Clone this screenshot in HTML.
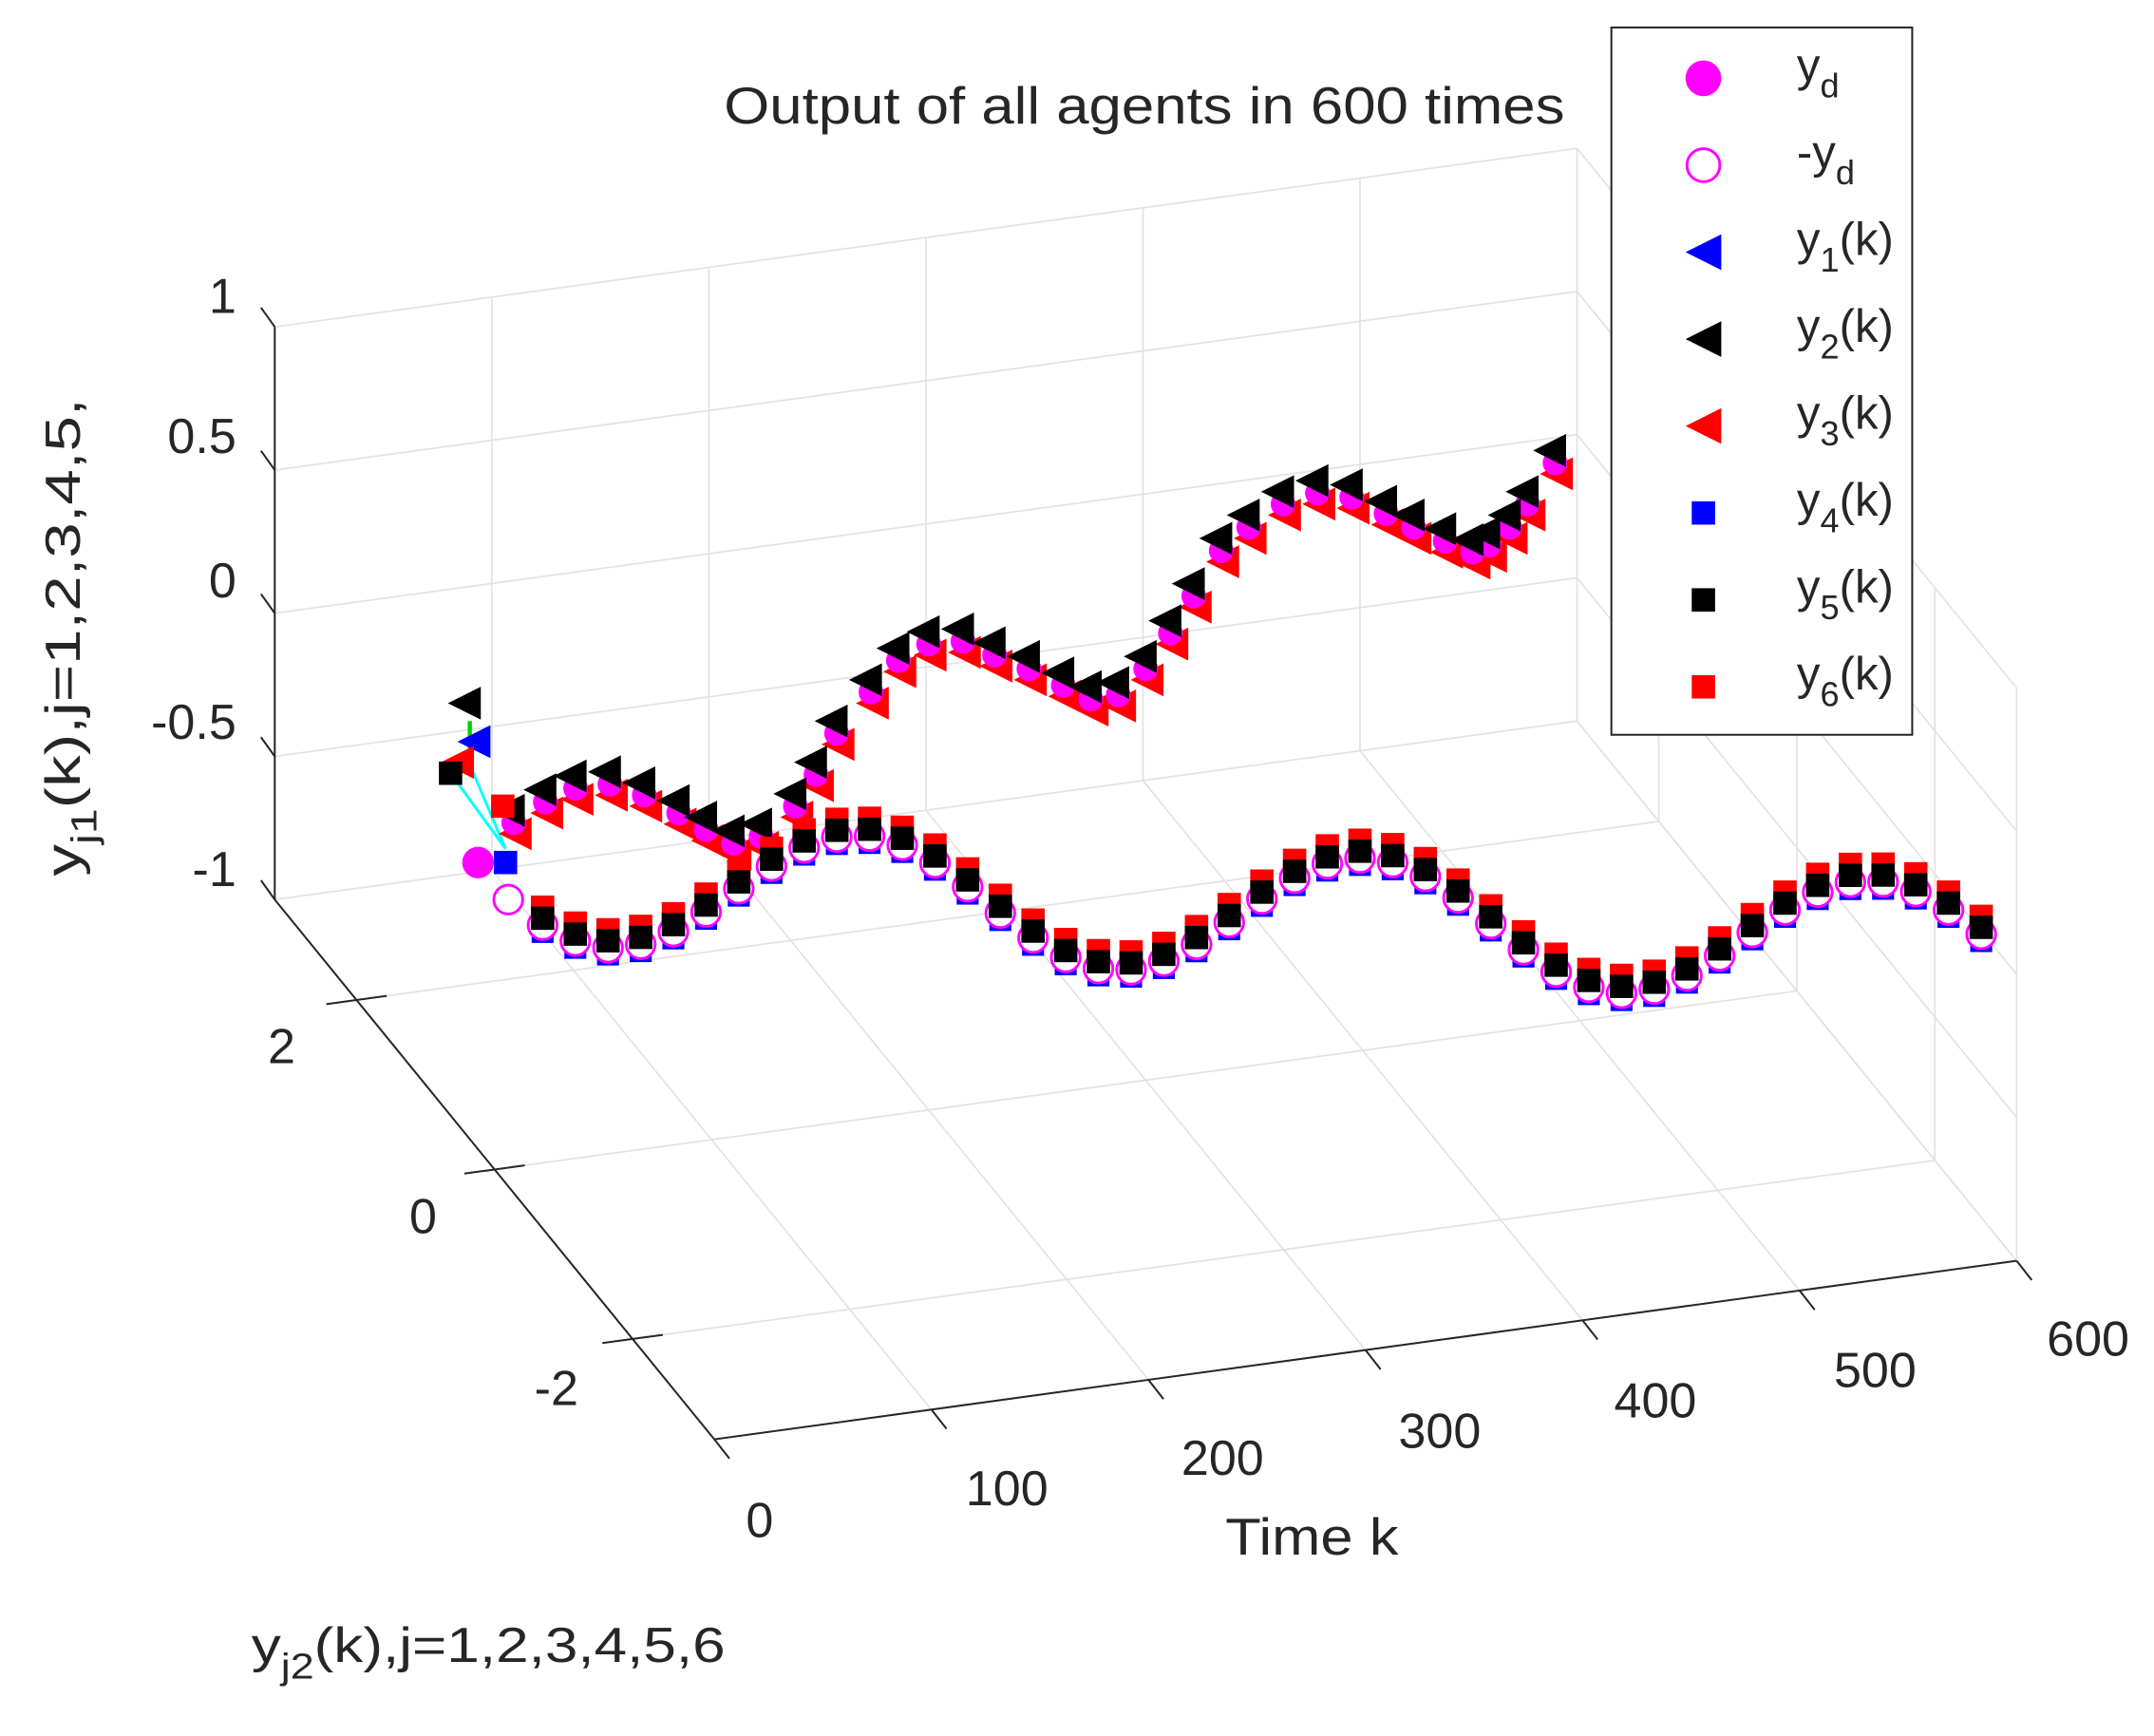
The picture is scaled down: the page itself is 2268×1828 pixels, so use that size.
<!DOCTYPE html>
<html><head><meta charset="utf-8"><style>
html,body{margin:0;padding:0;background:#fff;}
svg{display:block;}
text{font-family:"Liberation Sans",Arial,sans-serif;fill:#262626;}
</style></head><body>
<svg id="s" width="2268" height="1828" viewBox="0 0 1568 1264" preserveAspectRatio="none" xmlns="http://www.w3.org/2000/svg">
<rect width="1568" height="1264" fill="#fff"/>
<g id="grid" stroke="#e3e3e3" stroke-width="1.2" fill="none"></g>
<g id="axes" stroke="#262626" stroke-width="1.4" fill="none"></g>
<g id="data"></g>
<g id="labels"></g>
</svg>
<script>
const NS="http://www.w3.org/2000/svg";
function el(p,t,a,txt){const e=document.createElementNS(NS,t);for(const k in a)e.setAttribute(k,a[k]);if(txt!==undefined)e.textContent=txt;p.appendChild(e);return e;}
const G=document.getElementById('grid'),A=document.getElementById('axes'),D=document.getElementById('data'),L=document.getElementById('labels');
function P(k,f,z){return [200+948*k/600+320*f, 655-130*k/600+393*f-(z+1)*208.5];}
function line(g,a,b){el(g,'line',{x1:a[0],y1:a[1],x2:b[0],y2:b[1]});}
const ft=[0.186,0.5,0.814];
for(let z=-1;z<=1.001;z+=0.5) line(G,P(0,0,z),P(600,0,z));
for(let k=0;k<=600;k+=100) line(G,P(k,0,-1),P(k,0,1));
for(let z=-1;z<=1.001;z+=0.5) line(G,P(600,0,z),P(600,1,z));
for(const f of ft) line(G,P(600,f,-1),P(600,f,1));
line(G,P(600,1,-1),P(600,1,1));
for(const f of ft) line(G,P(0,f,-1),P(600,f,-1));
for(let k=100;k<=600;k+=100) line(G,P(k,0,-1),P(k,1,-1));
line(A,P(0,0,-1),P(0,0,1));
line(A,P(0,0,-1),P(0,1,-1));
line(A,P(0,1,-1),P(600,1,-1));
for(let z=-1;z<=1.001;z+=0.5){const p=P(0,0,z);line(A,p,[p[0]-10,p[1]-14]);}
for(const f of ft){const p=P(0,f,-1);line(A,p,[p[0]+22,p[1]-3]);line(A,p,[p[0]-22,p[1]+3]);}
for(let k=0;k<=600;k+=100){const p=P(k,1,-1);line(A,p,[p[0]+11,p[1]+14]);}
const T=(x,y,s,sz,anc,tl)=>{const a={x:x,y:y,'font-size':sz||36,'text-anchor':anc||'middle'};if(tl){a.textLength=tl;a.lengthAdjust='spacingAndGlyphs';}return el(L,'text',a,s);};
T(833,90,'Output of all agents in 600 times',38,'middle',612);
const zl=[['1',238],['0.5',340],['0',445],['-0.5',548],['-1',655]];
for(const [s,y] of zl) T(172,y-10,s,36,'end');
T(205,774,'2');T(308,898,'0');T(405,1023,'-2');
const kl=[['0',553,1119],['100',733,1096],['200',890,1074],['300',1048,1054],['400',1205,1032],['500',1365,1010],['600',1520,987]];
for(const [s,x,y] of kl) T(x,y,s);
T(955,1132,'Time k',38,'middle',126);
const t2=el(L,'text',{x:183,y:1210,'font-size':36,textLength:345,lengthAdjust:'spacingAndGlyphs'});
t2.innerHTML='y<tspan font-size="26" dy="12">j2</tspan><tspan dy="-12">(k),j=1,2,3,4,5,6</tspan>';
const t1=el(L,'text',{x:0,y:0,'font-size':36,transform:'translate(58,638) rotate(-90)',textLength:348,lengthAdjust:'spacingAndGlyphs'});
t1.innerHTML='y<tspan font-size="26" dy="12">j1</tspan><tspan dy="-12">(k),j=1,2,3,4,5,</tspan>';
function tri(x,y,c,s){s=s||12;el(D,'polygon',{points:`${x-s},${y} ${x+s},${y-s} ${x+s},${y+s}`,fill:c});}
function sq(x,y,c,s){s=s||8.5;el(D,'rect',{x:x-s,y:y-s,width:2*s,height:2*s,fill:c});}
function circ(x,y,fill,s){el(D,'circle',{cx:x,cy:y,r:s||10.5,fill:fill?'#f0f':'#fff',stroke:'#f0f','stroke-width':2});}
el(D,'polyline',{points:'328,563 368,618 340,552',fill:'none',stroke:'#0ff','stroke-width':2});
el(D,'line',{x1:342,y1:525,x2:342,y2:545,stroke:'#0c0','stroke-width':3});
tri(338,512,'#000');tri(345,540,'#00f');tri(333,555,'#f00');
sq(328,563,'#000');
const tp=[[370,590],[393,575],[415,565],[440,562],[465,570],[490,583],[510,595],[530,605],[550,600],[575,578],[590,555],[605,525],[630,495],[650,472],[672,460],[697,458],[720,468],[745,478],[770,490],[790,500],[810,497],[830,478],[848,452],[865,425],[885,392],[905,375],[930,358],[955,350],[980,353],[1005,365],[1025,375],[1048,385],[1068,393],[1080,388],[1095,375],[1108,358],[1128,328]];
for(const [x,y] of tp){tri(x+5,y+17,'#f00');}
for(const [x,y] of tp){circ(x+4,y+9,true,8);}
for(const [x,y] of tp){tri(x,y,'#000');}
const pts=[];
for(let x=395;x<=1450;x+=23.8){const yc=640+0.045*(x-443);pts.push([x,yc+45*Math.cos(2*Math.PI*(x-443)/368)]);}
for(const [x,y] of pts){sq(x,y+10,'#00f',8);}
for(const [x,y] of pts){circ(x,y+5,false,10.5);}
for(const [x,y] of pts){sq(x,y-8,'#f00',8.5);}
for(const [x,y] of pts){sq(x,y,'#000',8.5);}
sq(366,587,'#f00');sq(368,628,'#00f');circ(348,628,true,10.5);circ(370,655,false,10.5);
el(D,'rect',{x:1173,y:20,width:219,height:515,fill:'#fff',stroke:'#262626','stroke-width':1.4});
const leg=[['d','y','d'],['o','-y','d'],['t1','y','1'],['t2','y','2'],['t3','y','3'],['s4','y','4'],['s5','y','5'],['s6','y','6']];
leg.forEach((e,i)=>{const y=57+i*63.3;const mx=1240;
 const m=e[0];
 if(m==='d')circ(mx,y,true,12);else if(m==='o')circ(mx,y,false,12);
 else if(m[0]==='t')tri(mx,y,{1:'#00f',2:'#000',3:'#f00'}[m[1]],13);
 else sq(mx,y,{4:'#00f',5:'#000',6:'#f00'}[m[1]],8.5);
 const t=el(D,'text',{x:1308,y:y+2,'font-size':34});
 t.innerHTML=e[1]+'<tspan font-size="25" dy="12">'+e[2]+'</tspan>'+(i>=2?'<tspan dy="-12">(k)</tspan>':'');
});
</script>
</body></html>
